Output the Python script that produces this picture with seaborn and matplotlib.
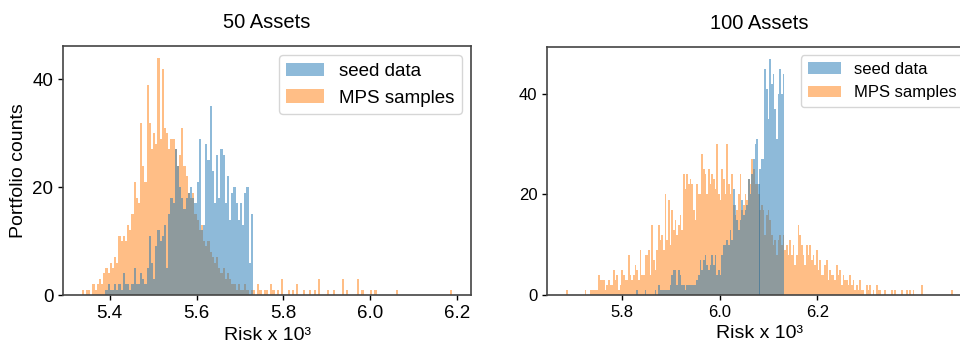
import numpy as np
import pandas as pd
import matplotlib
matplotlib.use("Agg")
import matplotlib.pyplot as plt
import seaborn as sns

# ---- 50 assets panel (bin width 0.005) ----
w50 = 0.005
mps50_c0 = 5.3375
mps50_counts = [1, 0, 1, 1, 0, 2, 1, 2, 3, 2, 4, 5, 4, 6, 5, 7, 6, 11, 10, 11,
                10, 13, 12, 15, 21, 18, 17, 32, 24, 21, 39, 32, 27, 30, 28, 44, 29, 42, 31, 30,
                27, 29, 29, 27, 24, 26, 31, 24, 22, 19, 18, 19, 15, 14, 12, 13, 10, 9, 10, 8,
                7, 6, 7, 5, 4, 5, 3, 4, 3, 2, 2, 1, 2, 1, 1, 2, 1, 0, 1, 1,
                0, 2, 1, 0, 1, 1, 0, 2, 1, 0, 1, 0]
mps50_tail_x = [5.7956, 5.8147, 5.822, 5.834, 5.845, 5.861, 5.872, 5.884, 5.903, 5.915,
                5.938, 5.949, 5.970, 5.984, 6.003, 6.014, 6.064, 6.1896]
mps50_tail_n = [3, 1, 1, 2, 1, 1, 1, 3, 1, 1, 3, 1, 3, 1, 1, 1, 1, 1]

seed50_c0 = 5.3925
seed50_counts = [1, 2, 1, 1, 2, 1, 2, 1, 4, 2, 2, 1, 2, 5, 2, 2, 4, 3, 2, 5,
                 11, 6, 3, 9, 12, 10, 11, 13, 5, 15, 18, 17, 27, 24, 20, 18, 16, 18, 19, 20,
                 18, 17, 21, 29, 12, 13, 28, 25, 35, 23, 17, 26, 18, 27, 26, 17, 22, 14, 19, 20,
                 17, 14, 17, 13, 19, 20, 6, 15]

# ---- 100 assets panel (bin width 0.00341, centres on a common grid) ----
w100 = 0.00341
grid100_c0 = 5.930
mps100_k0 = -60
mps100_counts = [1, 0, 0, 1, 1, 1, 1, 1, 4, 3, 3, 3, 1, 2, 3, 2, 2, 5, 3, 4,
                 1, 2, 5, 4, 3, 3, 8, 4, 3, 4, 6, 5, 3, 9, 4, 4, 8, 8, 9, 4,
                 14, 7, 5, 9, 14, 11, 12, 9, 20, 11, 19, 10, 17, 13, 15, 12, 14, 16, 13, 24,
                 21, 24, 22, 23, 22, 17, 15, 22, 20, 20, 28, 25, 24, 20, 25, 22, 24, 23, 21, 30,
                 20, 19, 25, 23, 20, 30, 22, 20, 24, 18, 16, 17, 20, 24, 17, 18, 20, 19, 23, 22,
                 27, 25, 22, 22, 20, 17, 18, 17, 12, 16, 17, 15, 12, 10, 11, 8, 11, 12, 10, 12,
                 9, 10, 8, 11, 8, 10, 6, 8, 14, 12, 10, 8, 6, 10, 8, 10, 7, 8, 6, 9,
                 5, 7, 4, 4, 6, 7, 3, 5, 4, 4, 3, 6, 4, 5, 2, 4, 3, 3, 2, 4,
                 2, 3, 1, 2, 1, 3, 1, 1, 0, 2, 1, 2, 0, 1, 0, 2, 1, 1]
mps100_tail_x = [5.688, 6.340, 6.352, 6.360, 6.373, 6.384, 6.390, 6.396, 6.414, 6.475]
mps100_tail_n = [1, 1, 1, 1, 1, 1, 1, 1, 2, 1]

seed100_k0 = -29
seed100_counts = [1, 0, 0, 0, 0, 1, 0, 0, 0, 0, 0, 1, 0, 2, 1, 1, 1, 1, 1, 1,
                  2, 4, 5, 5, 2, 5, 4, 2, 2, 1, 2, 2, 2, 2, 2, 2, 3, 4, 7, 5,
                  7, 8, 6, 5, 6, 8, 6, 8, 4, 5, 4, 8, 10, 10, 11, 10, 13, 11, 21, 18,
                  15, 13, 15, 19, 16, 17, 18, 23, 20, 24, 27, 30, 31, 22, 25, 27, 27, 45, 41, 35,
                  47, 42, 44, 37, 31, 40, 45, 40, 44]

titles = ["50 Assets", "100 Assets"]
labels = ["seed data", "MPS samples"]
x_ticks = [[5.4, 5.6, 5.8, 6.0, 6.2], [5.8, 6.0, 6.2]]
y_ticks = [0, 20, 40]


def to_frame(c0, w, counts, tail_x=(), tail_n=()):
    x = c0 + w * np.arange(len(counts))
    df = pd.DataFrame({"risk": np.concatenate([x, tail_x]),
                       "n": np.concatenate([counts, tail_n])})
    return df[df["n"] > 0]


def edges_for(c0, w, lo, hi):
    k0 = np.floor((lo - c0) / w + 0.5)
    k1 = np.ceil((hi - c0) / w + 0.5)
    return list(np.round(c0 + (np.arange(k0, k1 + 1) - 0.5) * w, 6))


sns.set_style("ticks")
plt.rcParams["font.family"] = ["Liberation Sans", "DejaVu Sans"]
plt.rcParams["axes.edgecolor"] = "#444444"
plt.rcParams["axes.linewidth"] = 1.2
plt.rcParams["text.color"] = "black"
plt.rcParams["axes.labelcolor"] = "black"
plt.rcParams["xtick.color"] = "black"
plt.rcParams["ytick.color"] = "black"

blue, orange = "#1f77b4", "#ff7f0e"

fig = plt.figure(figsize=(9.6, 3.43), dpi=100)
ax1 = fig.add_axes([63 / 960, 48 / 343, 408 / 960, 249 / 343])
ax2 = fig.add_axes([547 / 960, 48 / 343, 425 / 960, 248 / 343])

panels = [
    (ax1,
     to_frame(mps50_c0, w50, mps50_counts, mps50_tail_x, mps50_tail_n), w50, mps50_c0,
     to_frame(seed50_c0, w50, seed50_counts), w50, seed50_c0, 13.5, 13.5),
    (ax2,
     to_frame(grid100_c0 + mps100_k0 * w100, w100, mps100_counts, mps100_tail_x, mps100_tail_n),
     w100, grid100_c0,
     to_frame(grid100_c0 + seed100_k0 * w100, w100, seed100_counts), w100, grid100_c0, 12, 12),
]

for i, (ax, mps, wm, cm, seed, ws, cs, tick_fs, leg_fs) in enumerate(panels):
    sns.histplot(data=mps, x="risk", weights="n",
                 bins=edges_for(cm, wm, mps["risk"].min(), mps["risk"].max()),
                 color=orange, alpha=0.5, linewidth=0, ax=ax, label=labels[1])
    sns.histplot(data=seed, x="risk", weights="n",
                 bins=edges_for(cs, ws, seed["risk"].min(), seed["risk"].max()),
                 color=blue, alpha=0.5, linewidth=0, ax=ax, label=labels[0])
    ax.set_title(titles[i], fontsize=14.5, pad=13)
    ax.set_xlabel("Risk x 10³", fontsize=14)
    ax.set_ylabel("Portfolio counts" if i == 0 else "", fontsize=14)
    ax.set_xticks(x_ticks[i])
    ax.set_xticklabels([f"{t:.1f}" for t in x_ticks[i]])
    ax.set_yticks(y_ticks)
    ax.tick_params(labelsize=tick_fs, length=3.5, width=1)
    for s in ax.spines.values():
        s.set_visible(True)
    h, l = ax.get_legend_handles_labels()
    ax.legend(h[::-1], l[::-1], loc="upper right", fontsize=leg_fs)

fig.savefig("out.png", dpi=100)
